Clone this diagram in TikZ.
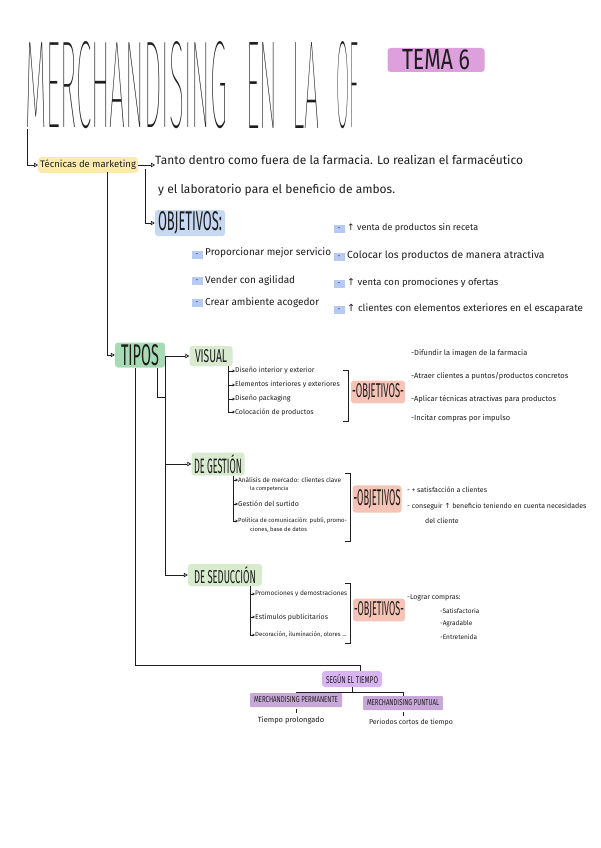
\documentclass[tikz,border=0pt]{standalone}
\usepackage{fontspec}
\usepackage{graphicx}
\setmainfont{Fira Sans}
\newfontfamily\thinf{Fira Sans Thin}
\newfontfamily\symf{DejaVu Sans}
\usetikzlibrary{arrows.meta,calc}
\definecolor{ink}{HTML}{1E1E1E}
\definecolor{hlyellow}{HTML}{FBEAAE}
\definecolor{hlblue}{HTML}{C6D8F2}
\definecolor{bulblue}{HTML}{B7CAF3}
\definecolor{hlgreen}{HTML}{A6DBB4}
\definecolor{hllgreen}{HTML}{D8EBCF}
\definecolor{hlsalmon}{HTML}{F6C4B6}
\definecolor{hltema}{HTML}{DDA0DD}
\definecolor{hllav}{HTML}{D9B4F2}
\definecolor{hlmauve}{HTML}{C8A8D8}
\newcommand\tallt[4]{\resizebox{#1pt}{#2pt}{\fontsize{#3}{#3}\selectfont #4}}
\newcommand\upar{{\symf ↑}}
\tikzset{
  txt/.style={anchor=west,inner sep=0pt,text=ink,font=\fontsize{#1}{#1}\selectfont},
  txt/.default=8,
  ttl/.style={anchor=south west,inner sep=0pt,text=ink},
  hl/.style={fill=#1,rounded corners=3pt,inner sep=0pt,text=ink},
  bul/.style={fill=bulblue,minimum width=11pt,minimum height=8pt,inner sep=0pt,text=ink,font=\fontsize{7}{7}\selectfont},
  ln/.style={draw=ink,line width=0.7pt},
  arr/.style={ln,-{Triangle[open,length=4pt,width=4.5pt]}},
  sarr/.style={ln,line width=0.5pt,-{Triangle[open,length=2.5pt,width=3pt]}},
  brk/.style={ln,line width=0.8pt}
}
\begin{document}
\begin{tikzpicture}[x=1pt,y=-1pt]
\useasboundingbox (0,0) rectangle (600,848);
\fill[white] (0,0) rectangle (600,848);

% title
\node[ttl] (title) at (25,129) {\tallt{202}{86}{125}{\thinf MERCHANDISING}};
\node[ttl] (title2) at (246,129) {\tallt{31}{86}{125}{\thinf EN}};
\node[ttl] (title3) at (292,129) {\tallt{27}{86}{125}{\thinf LA}};
\node[ttl] (title4) at (336,129) {\tallt{22}{86}{125}{\thinf OF}};
\node[hl=hltema,minimum width=97pt,minimum height=24pt] (tema) at (436,60) {\tallt{68}{20}{30}{TEMA 6}};

% tecnicas
\node[hl=hlyellow,anchor=west,inner xsep=2pt,inner ysep=3pt,font=\fontsize{9.5}{9.5}\selectfont] (tec) at (38,165) {Técnicas de marketing};
\node[txt=12] (d1) at (155,160) {Tanto dentro como fuera de la farmacia. Lo realizan el farmacéutico};
\node[txt=12] (d2) at (158,190) {y el laboratorio para el beneficio de ambos.};
\draw[arr] ([xshift=2pt]title.south west) |- (tec.west);
\draw[arr] (tec.east) -- (d1.west |- tec.east);

% objetivos generales
\node[hl=hlblue,minimum width=70pt,minimum height=26pt] (obj) at (190,223) {\tallt{64}{19}{28}{OBJETIVOS:}};
\coordinate (c1) at (145,169);
\draw[arr] (c1) |- (obj.west);

\node[bul] (b1) at (197,255) {-};
\node[txt=10] (o1) at (205,253) {Proporcionar mejor servicio};
\node[bul] (b2) at (197,281) {-};
\node[txt=10] (o2) at (205,281) {Vender con agilidad};
\node[bul] (b3) at (197,303) {-};
\node[txt=10] (o3) at (205,303) {Crear ambiente acogedor};
\node[bul] (b4) at (339,229) {-};
\node[txt=9] (o4) at (347,228) {\upar\ venta de productos sin receta};
\node[bul] (b5) at (339,257) {-};
\node[txt=10.3] (o5) at (347,256) {Colocar los productos de manera atractiva};
\node[bul] (b6) at (339,284) {-};
\node[txt=9.5] (o6) at (347,283) {\upar\ venta con promociones y ofertas};
\node[bul] (b7) at (339,310) {-};
\node[txt=9.8] (o7) at (347,309) {\upar\ clientes con elementos exteriores en el escaparate};

% tipos
\node[hl=hlgreen,minimum width=50pt,minimum height=25pt] (tipos) at (140,355) {\tallt{38}{21}{30}{TIPOS}};
\coordinate (c2) at (107,172);
\draw[arr] (c2) |- (tipos.west);

% visual
\node[hl=hllgreen,minimum width=43pt,minimum height=20pt] (visual) at (211,356) {\tallt{32}{13}{19}{VISUAL}};
\draw[arr] (tipos.east |- visual.west) -- (visual.west);
\coordinate (j1) at (165,356);
\coordinate (j2) at (157,368);
\draw[ln] (j2) |- (165,397);

\node[txt=7] (v1) at (235,371) {Diseño interior y exterior};
\node[txt=7] (v2) at (235,385) {Elementos interiores y exteriores};
\node[txt=7] (v3) at (235,399) {Diseño packaging};
\node[txt=7] (v4) at (235,412) {Colocación de productos};
\coordinate (vb) at (228,366);
\foreach \n in {v1,v2,v3,v4} \draw[sarr] (vb) |- (\n.west);

\draw[brk] (343,370) -- (348,370) -- (348,421) -- (343,421);
\node[hl=hlsalmon,inner xsep=1pt,inner ysep=3pt] (ob2) at (378,392) {\tallt{52}{14}{20}{-OBJETIVOS-}};
\node[txt=7.5] (r1) at (411,353) {-Difundir la imagen de la farmacia};
\node[txt=7.5] (r2) at (411,376) {-Atraer clientes a puntos/productos concretos};
\node[txt=7.5] (r3) at (411,399) {-Aplicar técnicas atractivas para productos};
\node[txt=7.5] (r4) at (411,418) {-Incitar compras por impulso};

% de gestion
\node[hl=hllgreen,minimum width=53pt,minimum height=23pt] (gest) at (218,464) {\tallt{48}{19}{22}{DE GESTIÓN}};
\draw[arr] (j1) |- (gest.west);
\node[txt=6.5] (g1) at (238,480) {Análisis de mercado: clientes clave};
\node[txt=5.5] (g1b) at (250,489) {la competencia};
\node[txt=7] (g2) at (238,504) {Gestión del surtido};
\node[txt=6] (g3) at (238,521) {Política de comunicación: publi, promo-};
\node[txt=5.8] (g3b) at (250,530) {ciones, base de datos};
\coordinate (gb) at (233,476);
\foreach \n in {g1,g2,g3} \draw[sarr] (gb) |- (\n.west);

\draw[brk] (345,473) -- (350,473) -- (350,541) -- (345,541);
\node[hl=hlsalmon,inner xsep=1pt,inner ysep=4pt] (ob3) at (377,499) {\tallt{47}{16}{23}{-OBJETIVOS}};
\node[txt=7] (s1) at (407,490) {- + satisfacción a clientes};
\node[txt=7] (s2) at (407,507) {- conseguir \upar\ beneficio teniendo en cuenta necesidades};
\node[txt=7] (s2b) at (425,521) {del cliente};

% de seduccion
\node[hl=hllgreen,minimum width=74pt,minimum height=22pt] (sed) at (225,575) {\tallt{62}{17}{21}{DE SEDUCCIÓN}};
\draw[arr] (j1) |- (sed.west);
\node[txt=6.5] (e1) at (255,594) {Promociones y demostraciones};
\node[txt=7] (e2) at (255,617) {Estímulos publicitarios};
\node[txt=6] (e3) at (255,635) {Decoración, iluminación, olores ...};
\coordinate (eb) at (250,586);
\foreach \n in {e1,e2,e3} \draw[sarr] (eb) |- (\n.west);

\draw[brk] (345,583) -- (350,583) -- (350,643) -- (345,643);
\node[hl=hlsalmon,inner xsep=1pt,inner ysep=3pt] (ob4) at (379,610) {\tallt{50}{14}{20}{-OBJETIVOS-}};
\node[txt=7] (l0) at (407,598) {-Lograr compras:};
\node[txt=6.5] (l1) at (440,611) {-Satisfactoria};
\node[txt=6.5] (l2) at (440,624) {-Agradable};
\node[txt=6.5] (l3) at (440,637) {-Entretenida};

% segun el tiempo
\node[hl=hllav,minimum width=60pt,minimum height=16pt] (segun) at (352,679) {\tallt{52}{9}{12}{SEGÚN EL TIEMPO}};
\coordinate (c3) at (135,368);
\draw[ln] (c3) |- (360,665) -- (360,671);
\node[hl=hlmauve,minimum width=92pt,minimum height=14pt,rounded corners=1pt] (perm) at (296,700) {\tallt{84}{6}{8}{MERCHANDISING PERMANENTE}};
\node[hl=hlmauve,minimum width=80pt,minimum height=14pt,rounded corners=1pt] (punt) at (403,703) {\tallt{72}{6}{8}{MERCHANDISING PUNTUAL}};
\coordinate (t1) at (352,692);
\draw[ln] (segun.south) -- (t1);
\draw[ln] (t1) -| (perm.north);
\draw[ln] (t1) -| (punt.north);
\node[txt=7.5,anchor=center] (tp) at (291,720) {Tiempo prolongado};
\node[txt=7,anchor=center] (pc) at (411,723) {Periodos cortos de tiempo};
\draw[ln,line width=0.5pt] (perm.south) ++(0,2) -- ++(0,4);
\draw[ln,line width=0.5pt] (punt.south) ++(0,2) -- ++(0,4);
\end{tikzpicture}
\end{document}
